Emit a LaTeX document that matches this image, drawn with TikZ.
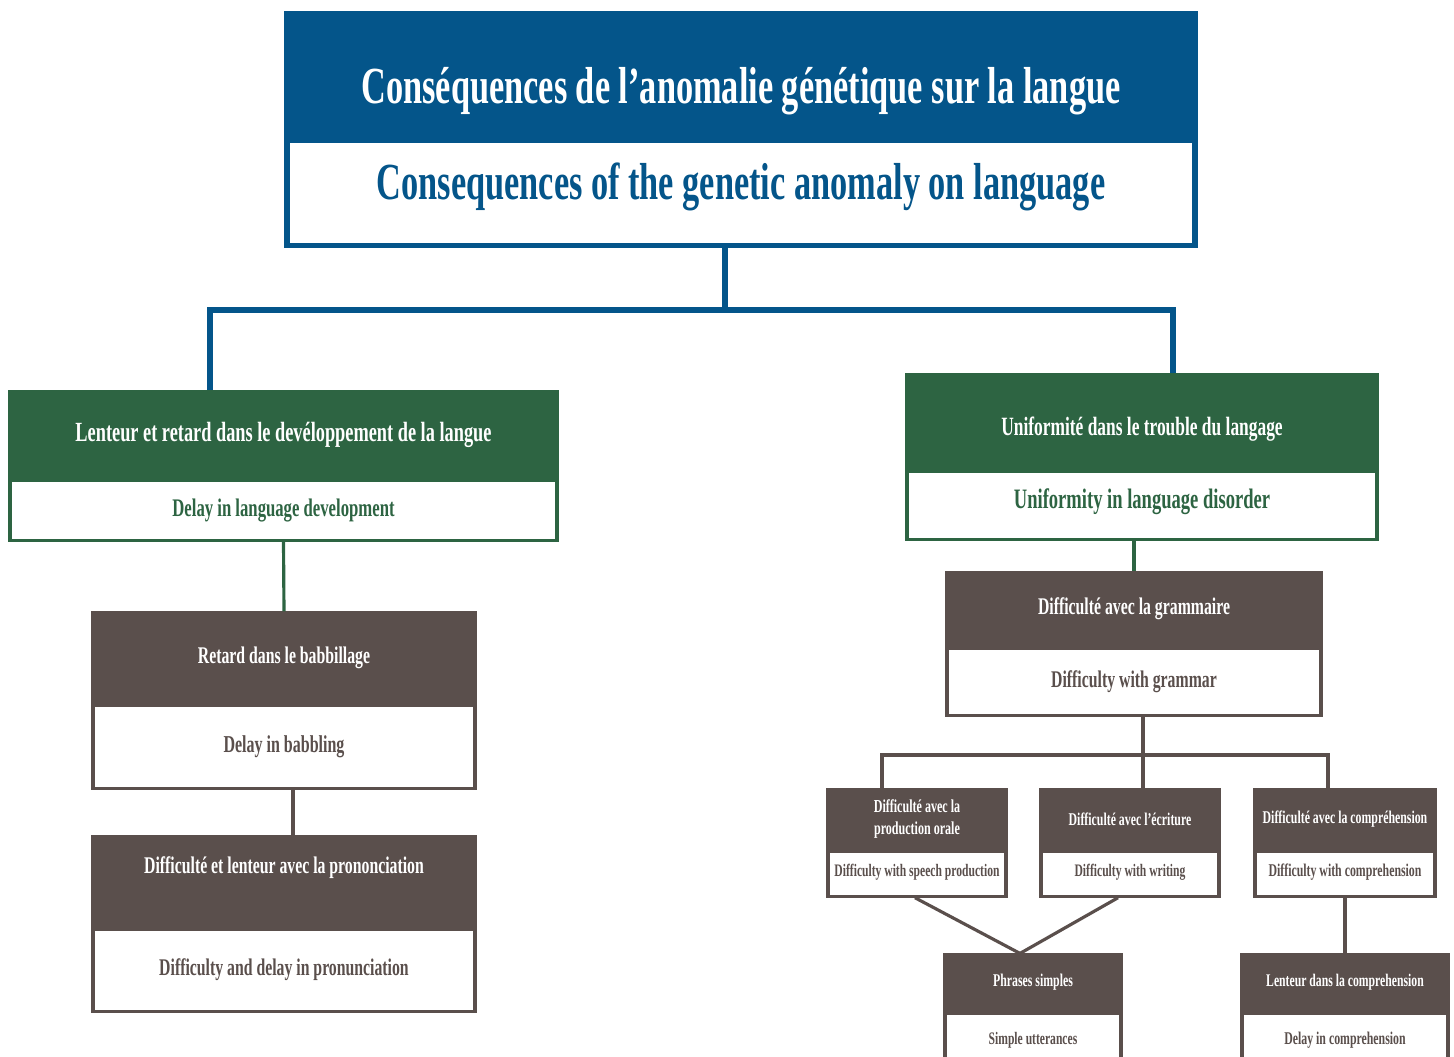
\documentclass[tikz,border=0pt]{standalone}
\usepackage{fontspec}
\setmainfont{Liberation Serif}[FakeStretch=0.66]
\usetikzlibrary{positioning}

\definecolor{topblue}{RGB}{4,85,138}
\definecolor{leafgreen}{RGB}{45,100,66}
\definecolor{boxbrown}{RGB}{90,79,76}

\newcommand{\fs}[1]{\bfseries\fontsize{#1}{1.2\dimexpr#1pt\relax}\selectfont}

\begin{document}
\begin{tikzpicture}[x=1cm, y=1cm,
		box/.style={rectangle, inner sep=0pt, align=center},
		% fixed text box, to move a label off the centre of its box
		textbox/.style 2 args={text height=#1, text depth=#2},
		bluehead/.style={box, draw=topblue, fill=topblue, text=white, line width=1.5pt},
		bluebody/.style={box, draw=topblue, fill=white, text=topblue, line width=1.5pt},
		greenhead/.style={box, draw=leafgreen, fill=leafgreen, text=white, line width=0.9pt},
		greenbody/.style={box, draw=leafgreen, fill=white, text=leafgreen, line width=0.9pt},
		brownhead/.style={box, draw=boxbrown, fill=boxbrown, text=white, line width=0.9pt},
		brownbody/.style={box, draw=boxbrown, fill=white, text=boxbrown, line width=0.9pt}]
	\useasboundingbox (0,0) rectangle (14.54,-10.57);
	\clip (0,0) rectangle (14.54,-10.57);

	% top of the tree
	\path (7.41,-0.745) node[bluehead, minimum width=9.08cm, minimum height=1.21cm, font=\fs{14.8},
		textbox={0.59cm}{0pt}] (topH)
		{Conséquences de l’anomalie génétique sur la langue};
	\node[bluebody, below=0pt of topH, minimum width=9.08cm, minimum height=1.05cm, font=\fs{14.8},
		textbox={0.13cm}{0pt}] (topB)
		{Consequences of the genetic anomaly on language};

	% the two branches
	\path (2.835,-4.345) node[greenhead, minimum width=5.47cm, minimum height=0.85cm, font=\fs{7.9}] (slowH)
		{Lenteur et retard dans le devéloppement de la langue};
	\node[greenbody, below=0pt of slowH, minimum width=5.47cm, minimum height=0.60cm, font=\fs{7.2}] (slowB)
		{Delay in language development};
	\path (11.42,-4.215) node[greenhead, minimum width=4.70cm, minimum height=0.93cm, font=\fs{7.5},
		textbox={0.28cm}{0pt}] (uniH)
		{Uniformité dans le trouble du langage};
	\node[greenbody, below=0pt of uniH, minimum width=4.70cm, minimum height=0.68cm, font=\fs{8.0},
		textbox={0.07cm}{0pt}] (uniB)
		{Uniformity in language disorder};

	% left column
	\path (2.84,-6.575) node[brownhead, minimum width=3.82cm, minimum height=0.89cm, font=\fs{6.8}] (babH)
		{Retard dans le babbillage};
	\node[brownbody, below=0pt of babH, minimum width=3.82cm, minimum height=0.83cm, font=\fs{6.9}] (babB)
		{Delay in babbling};
	\path (2.84,-8.815) node[brownhead, minimum width=3.82cm, minimum height=0.89cm, font=\fs{6.8},
		textbox={0pt}{0.15cm}] (pronH)
		{Difficulté et lenteur avec la prononciation};
	\node[brownbody, below=0pt of pronH, minimum width=3.82cm, minimum height=0.82cm, font=\fs{6.8}] (pronB)
		{Difficulty and delay in pronunciation};

	% right column
	\path (11.34,-6.09) node[brownhead, minimum width=3.74cm, minimum height=0.72cm, font=\fs{6.8}] (gramH)
		{Difficulté avec la grammaire};
	\node[brownbody, below=0pt of gramH, minimum width=3.74cm, minimum height=0.67cm, font=\fs{6.8}] (gramB)
		{Difficulty with grammar};

	\path (9.17,-8.19) node[brownhead, minimum width=1.78cm, minimum height=0.58cm, font=\fs{5.2}] (speechH)
		{Difficulté avec la\\production orale};
	\node[brownbody, below=0pt of speechH, minimum width=1.78cm, minimum height=0.45cm, font=\fs{5.0},
		textbox={0.05cm}{0pt}] (speechB)
		{Difficulty with speech production};
	\path (11.30,-8.19) node[brownhead, minimum width=1.78cm, minimum height=0.58cm, font=\fs{5.1}] (writeH)
		{Difficulté avec l’écriture};
	\node[brownbody, below=0pt of writeH, minimum width=1.78cm, minimum height=0.45cm, font=\fs{5.0},
		textbox={0.05cm}{0pt}] (writeB)
		{Difficulty with writing};
	\path (13.45,-8.19) node[brownhead, minimum width=1.80cm, minimum height=0.58cm, font=\fs{5.1}] (compH)
		{Difficulté avec la compréhension};
	\node[brownbody, below=0pt of compH, minimum width=1.80cm, minimum height=0.45cm, font=\fs{5.1},
		textbox={0.05cm}{0pt}] (compB)
		{Difficulty with comprehension};

	\path (10.33,-9.825) node[brownhead, minimum width=1.76cm, minimum height=0.55cm, font=\fs{5.1}] (phrH)
		{Phrases simples};
	\node[brownbody, below=0pt of phrH, minimum width=1.76cm, minimum height=0.55cm, font=\fs{5.0}] (phrB)
		{Simple utterances};
	\path (13.45,-9.825) node[brownhead, minimum width=2.06cm, minimum height=0.55cm, font=\fs{5.05}] (lateH)
		{Lenteur dans la comprehension};
	\node[brownbody, below=0pt of lateH, minimum width=2.06cm, minimum height=0.55cm, font=\fs{5.1}] (lateB)
		{Delay in comprehension};

	% connectors
	\coordinate (trunk) at (7.25,-3.10);
	\coordinate (busL) at (2.10,-3.10);
	\coordinate (busR) at (11.73,-3.10);
	\draw[topblue, line width=1.5pt] (trunk |- topB.south) -- (trunk);
	\draw[topblue, line width=1.5pt] (busL |- slowH.north) -- (busL) -- (busR) -- (busR |- uniH.north);

	\draw[leafgreen, line width=0.9pt] (slowB.south) -- (babH.north);
	\draw[leafgreen, line width=0.9pt] (uniB.south -| gramH.north) -- (gramH.north);

	\coordinate (fork) at (11.43,-7.55);
	\coordinate (forkL) at (8.82,-7.55);
	\coordinate (forkR) at (13.28,-7.55);
	\draw[boxbrown, line width=0.9pt] ([xshift=0.09cm]babB.south) -- ([xshift=0.09cm]pronH.north);
	\draw[boxbrown, line width=0.9pt] (fork |- gramB.south) -- (fork |- writeH.north);
	\draw[boxbrown, line width=0.9pt] (forkL |- speechH.north) -- (forkL) -- (forkR) -- (forkR |- compH.north);
	\draw[boxbrown, line width=0.9pt] ([xshift=-0.02cm]speechB.south) -- ([xshift=-0.13cm]phrH.north) -- ([xshift=-0.12cm]writeB.south);
	\draw[boxbrown, line width=0.9pt] (compB.south) -- (lateH.north);
\end{tikzpicture}
\end{document}
